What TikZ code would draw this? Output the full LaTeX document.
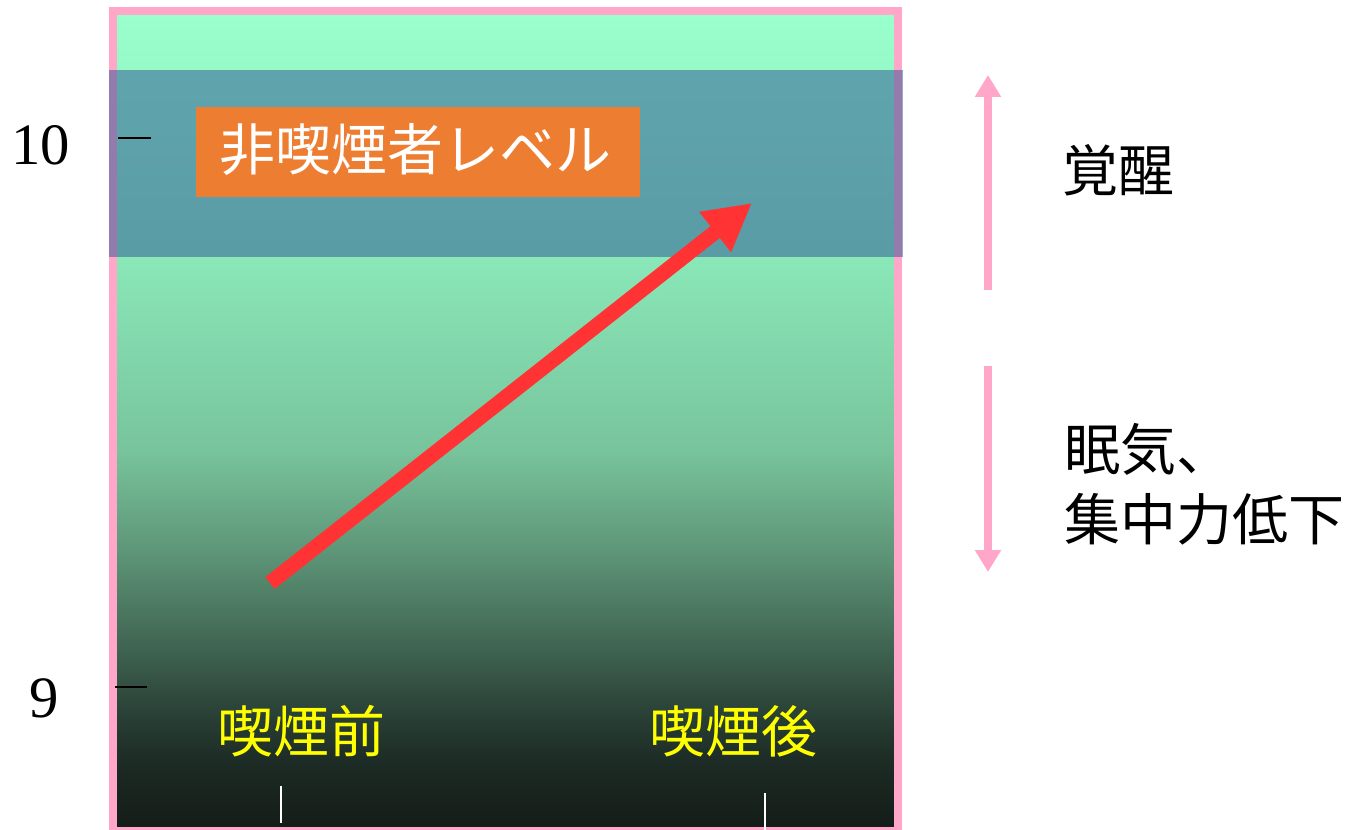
\documentclass[tikz,border=0pt]{standalone}
\usepackage{fontspec}
\setmainfont{Liberation Serif}
\newfontfamily\jp{Noto Sans CJK JP}
\usetikzlibrary{arrows.meta}
\definecolor{pinkc}{HTML}{FFA6C9}
\definecolor{bandc}{HTML}{2B5194}
\definecolor{orangec}{HTML}{ED7D31}
\definecolor{redc}{HTML}{FF3333}
\definecolor{yellowc}{HTML}{FFFF00}
\definecolor{g0}{HTML}{141C18}
\definecolor{g1}{HTML}{1C2A24}
\definecolor{g2}{HTML}{283E34}
\definecolor{g3}{HTML}{3E6250}
\definecolor{g4}{HTML}{5E9678}
\definecolor{g5}{HTML}{78C49C}
\definecolor{g6}{HTML}{8AE8B8}
\definecolor{g7}{HTML}{99FFCC}
\pgfdeclareverticalshading{bgshade}{100bp}{color(0bp)=(g0); color(25bp)=(g0); color(28.95bp)=(g1); color(31.75bp)=(g2); color(35.9bp)=(g3); color(42.05bp)=(g4); color(48.2bp)=(g5); color(60.15bp)=(g6); color(75bp)=(g7); color(100bp)=(g7)}
\begin{document}
\begin{tikzpicture}[x=0.75pt,y=-0.75pt,
  jptext/.style={font=\jp\fontsize{42}{52.5}\selectfont, inner sep=0pt},
  numtext/.style={font=\fontsize{44}{50}\selectfont, inner sep=0pt},
  blacktick/.style={draw=black, line width=1.5pt},
  whitetick/.style={draw=white, line width=2pt},
  pinkarrow/.style={draw=pinkc, line width=6pt, -{Triangle[length=16.5pt,width=18.75pt]}},
  redarrow/.style={draw=redc, line width=11.25pt, -{Triangle[length=35.25pt,width=36pt]}}]
\useasboundingbox (0,0) rectangle (1355,830);
% background gradient
\shade[shading=bgshade] (115,13) rectangle (897,829);
% pink frame
\draw[pinkc, line width=6pt] (113,11) rectangle (898,831);
% translucent band
\fill[bandc, opacity=0.5] (109,70) rectangle (903,257);
% orange label box
\node[fill=orangec, minimum width=333pt, minimum height=67.5pt, inner sep=0pt] (box) at (418,152) {};
\node[jptext, text=white] (boxtext) at (415,150) {非喫煙者レベル};
% axis labels and ticks
\node[numtext] (n10) at (41,145) {10};
\node[numtext] (n9) at (44.5,698) {9};
\coordinate (t10a) at (118,138);
\coordinate (t10b) at (151,138);
\coordinate (t9a) at (115,687);
\coordinate (t9b) at (147,687);
\draw[blacktick] (t10a) -- (t10b);
\draw[blacktick] (t9a) -- (t9b);
% red arrow
\coordinate (ra) at (270,583);
\coordinate (rb) at (752,203);
\draw[redarrow] (ra) -- (rb);
% bottom labels
\node[jptext, text=yellowc] (before) at (301.5,731) {喫煙前};
\node[jptext, text=yellowc] (after) at (733.5,731) {喫煙後};
\coordinate (w1a) at (281,786);
\coordinate (w1b) at (281,823);
\coordinate (w2a) at (765,793);
\coordinate (w2b) at (765,830);
\draw[whitetick] (w1a) -- (w1b);
\draw[whitetick] (w2a) -- (w2b);
% right arrows
\coordinate (ua) at (988,290);
\coordinate (ub) at (988,75);
\coordinate (da) at (988,366);
\coordinate (db) at (988,572);
\draw[pinkarrow] (ua) -- (ub);
\draw[pinkarrow] (da) -- (db);
\node[jptext, anchor=west] (awake) at (1062,170) {覚醒};
\node[jptext, anchor=north west, align=left] (sleepy) at (1064,423) {眠気、\\集中力低下};
\end{tikzpicture}
\end{document}
